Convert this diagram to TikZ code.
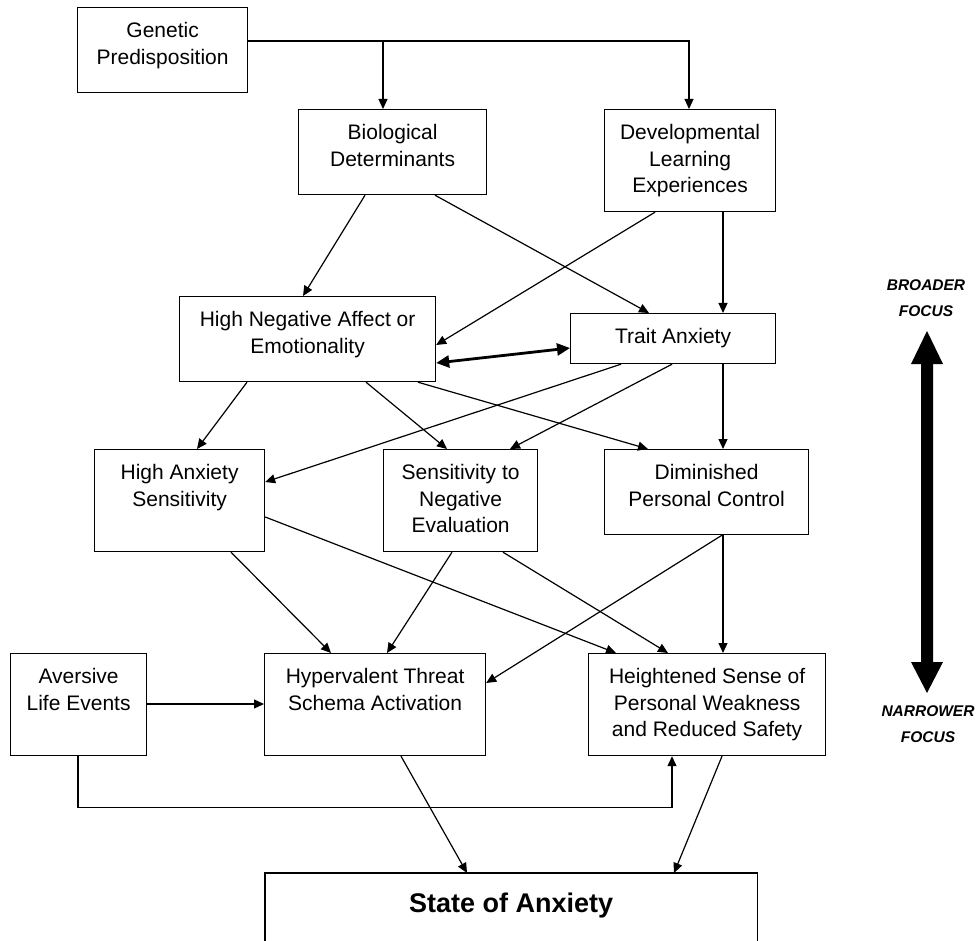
\documentclass[tikz,border=0pt]{standalone}
\usepackage{fontspec}
\setmainfont{Liberation Sans}
\usetikzlibrary{calc,arrows.meta}
\tikzset{
  bx/.style={draw, line width=1.2pt, inner sep=0pt, anchor=north west},
  plain/.style={inner sep=0pt, anchor=north west},
  ln/.style={line width=1.2pt},
  arr/.style={line width=1.2pt, -{Triangle[length=10pt,width=9pt]}},
  darr/.style={line width=2.8pt, {Triangle[length=13pt,width=12pt]}-{Triangle[length=13pt,width=12pt]}},
  lbl/.style={inner sep=0pt, anchor=base, font=\fontsize{15.5}{26}\selectfont\bfseries\itshape}
}
\newcommand\bt[3]{\parbox[c][#2pt][t]{#1pt}{\centering\fontsize{21}{26.5}\selectfont\rule{0pt}{30pt}#3\par}}
\begin{document}
\begin{tikzpicture}[x=1pt,y=-1pt]
\fill[white] (0,0) rectangle (980,941);
\useasboundingbox (0,0) rectangle (980,941);
% boxes
\node[bx] (gen) at (77,7) {\bt{170}{85}{Genetic\\Predisposition}};
\node[bx] (bio) at (298,109) {\bt{188}{85}{Biological\\Determinants}};
\node[bx] (dev) at (604,109) {\bt{171}{102}{Developmental\\Learning\\Experiences}};
\node[bx] (hna) at (179,296) {\bt{256}{85}{High Negative Affect or\\Emotionality}};
\node[bx] (trait) at (570,313) {\bt{205}{50}{Trait Anxiety}};
\node[bx] (has) at (94,449) {\bt{170}{102}{High Anxiety\\Sensitivity}};
\node[bx] (sne) at (383,449) {\bt{154}{102}{Sensitivity to\\Negative\\Evaluation}};
\node[bx] (dpc) at (604,449) {\bt{204}{85}{Diminished\\Personal Control}};
\node[bx] (ale) at (10,653) {\bt{136}{102}{Aversive\\Life Events}};
\node[bx] (hts) at (264,653) {\bt{221}{102}{Hypervalent Threat\\Schema Activation}};
\node[bx] (hsp) at (588,653) {\bt{237}{102}{Heightened Sense of\\Personal Weakness\\and Reduced Safety}};
\node[plain] (soa) at (265,873) {\parbox[c][68pt][t]{492pt}{\centering\fontsize{27}{32}\selectfont\bfseries\rule{0pt}{39pt}State of Anxiety\par}};
\draw[ln] (soa.south west) -- (soa.north west) -- (soa.north east) -- (soa.south east);
% connectors
\coordinate (j1) at (383,41);
\coordinate (j2) at (689,41);
\draw[arr] (gen.east |- j2) -- (j2) -- (j2 |- dev.north);
\draw[arr] (j1) -- (j1 |- bio.north);
\draw[arr] ($(bio.south west)+(67,0)$) -- ($(hna.north west)+(124,0)$);
\draw[arr] ($(bio.south west)+(137,0)$) -- ($(trait.north west)+(79,0)$);
\draw[arr] ($(dev.south west)+(51,0)$) -- ($(hna.north east)+(0,49)$);
\draw[arr] ($(dev.south west)+(119,0)$) -- ($(trait.north west)+(153,0)$);
\draw[darr] ($(hna.north east)+(0,67)$) -- ($(trait.north west)+(0,35)$);
\draw[arr] ($(hna.south west)+(68,0)$) -- ($(has.north west)+(103,0)$);
\draw[arr] ($(hna.south west)+(187,0)$) -- ($(sne.north west)+(64,0)$);
\draw[arr] ($(hna.south west)+(239,0)$) -- ($(dpc.north west)+(44,0)$);
\draw[arr] ($(trait.south west)+(51,0)$) -- ($(has.north east)+(0,33)$);
\draw[arr] ($(trait.south west)+(102,0)$) -- ($(sne.north west)+(127,0)$);
\draw[arr] ($(trait.south west)+(153,0)$) -- ($(dpc.north west)+(119,0)$);
\draw[arr] ($(has.south west)+(137,0)$) -- ($(hts.north west)+(67,0)$);
\draw[arr] ($(has.north east)+(0,68)$) -- ($(hsp.north west)+(28,0)$);
\draw[arr] ($(sne.south west)+(69,0)$) -- ($(hts.north west)+(123,0)$);
\draw[arr] ($(sne.south west)+(120,0)$) -- ($(hsp.north west)+(80,0)$);
\draw[arr] ($(dpc.south west)+(118,0)$) -- ($(hts.north east)+(0,30)$);
\draw[arr] ($(dpc.south west)+(119,0)$) -- ($(hsp.north west)+(135,0)$);
\draw[arr] ($(ale.north east)+(0,51)$) -- ($(hts.north west)+(0,51)$);
\draw[arr] ($(ale.south west)+(68,0)$) -- ++(0,51) -| ($(hsp.south west)+(84,0)$);
\draw[arr] ($(hts.south west)+(137,0)$) -- ($(soa.north west)+(202,0)$);
\draw[arr] ($(hsp.south west)+(134,0)$) -- ($(soa.north west)+(409,0)$);
% focus arrow
\fill[black] (927,331) -- (943,364) -- (933,364) -- (933,662) -- (943,662) -- (927,693) -- (911,662) -- (921,662) -- (921,364) -- (911,364) -- cycle;
\node[lbl] (broad) at (926,291) {\parbox[t]{100pt}{\centering BROADER\\FOCUS}};
\node[lbl] (narrow) at (928,716) {\parbox[t]{100pt}{\centering NARROWER\\FOCUS}};
\end{tikzpicture}
\end{document}
